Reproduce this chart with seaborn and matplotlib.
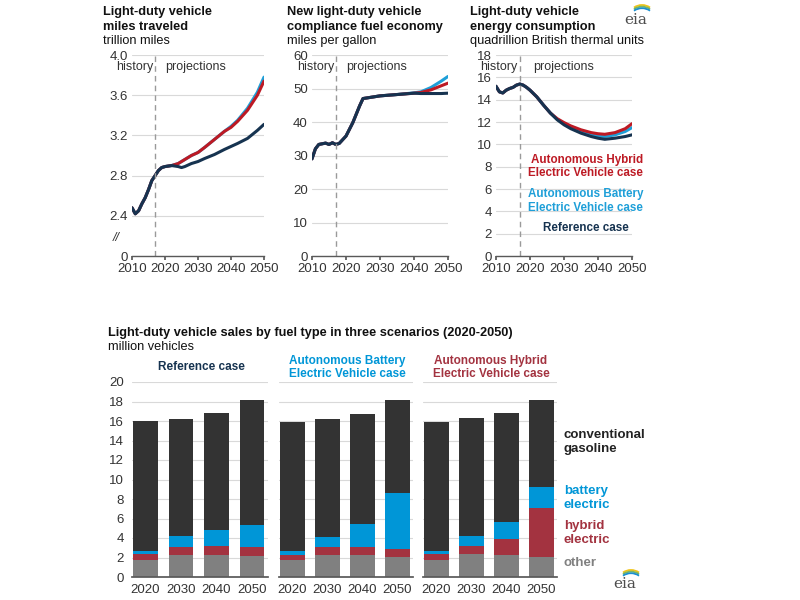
import numpy as np
import pandas as pd
import matplotlib
matplotlib.use("Agg")
import matplotlib.pyplot as plt
from matplotlib.patches import Arc
import seaborn as sns

# ---- line charts (top row) ----
vmt_years = [2010, 2011, 2012, 2013, 2014, 2015, 2016, 2017, 2018, 2019, 2020, 2022,
             2024, 2025, 2026, 2028, 2030, 2032, 2035, 2038, 2040, 2042, 2045, 2048, 2050]
vmt_ref = [2.48, 2.42, 2.45, 2.52, 2.58, 2.66, 2.75, 2.80, 2.85, 2.88, 2.89, 2.90,
           2.89, 2.88, 2.89, 2.92, 2.94, 2.97, 3.01, 3.06, 3.09, 3.12, 3.17, 3.25, 3.31]
vmt_bev = [2.48, 2.42, 2.45, 2.52, 2.58, 2.66, 2.75, 2.80, 2.85, 2.88, 2.89, 2.90,
           2.92, 2.94, 2.96, 3.00, 3.03, 3.08, 3.16, 3.24, 3.29, 3.35, 3.47, 3.63, 3.78]
vmt_hev = [2.48, 2.42, 2.45, 2.52, 2.58, 2.66, 2.75, 2.80, 2.85, 2.88, 2.89, 2.90,
           2.92, 2.94, 2.96, 3.00, 3.03, 3.08, 3.16, 3.24, 3.28, 3.34, 3.45, 3.60, 3.74]

mpg_years = [2010, 2011, 2012, 2013, 2014, 2015, 2016, 2017, 2018, 2019, 2020, 2021,
             2022, 2023, 2024, 2025, 2030, 2035, 2040, 2042, 2045, 2048, 2050]
mpg_ref = [29.0, 32.0, 33.3, 33.5, 33.7, 33.3, 33.8, 33.3, 33.6, 34.7, 35.8, 37.8,
           39.8, 42.3, 44.8, 47.0, 47.8, 48.2, 48.6, 48.5, 48.5, 48.5, 48.6]
mpg_bev = [29.0, 32.0, 33.3, 33.5, 33.7, 33.3, 33.8, 33.3, 33.6, 34.7, 35.8, 37.8,
           39.8, 42.3, 44.8, 47.0, 47.8, 48.2, 48.7, 49.0, 50.3, 52.2, 53.6]
mpg_hev = [29.0, 32.0, 33.3, 33.5, 33.7, 33.3, 33.8, 33.3, 33.6, 34.7, 35.8, 37.8,
           39.8, 42.3, 44.8, 47.0, 47.8, 48.2, 48.6, 48.8, 49.6, 50.8, 51.6]

nrg_years = [2010, 2011, 2012, 2013, 2014, 2015, 2016, 2017, 2018, 2019, 2020, 2022,
             2024, 2026, 2028, 2030, 2032, 2035, 2038, 2040, 2042, 2045, 2048, 2050]
nrg_ref = [15.2, 14.7, 14.6, 14.85, 15.0, 15.1, 15.3, 15.4, 15.3, 15.1, 14.85, 14.25,
           13.5, 12.8, 12.2, 11.75, 11.4, 11.0, 10.7, 10.55, 10.45, 10.55, 10.7, 10.85]
nrg_bev = [15.2, 14.7, 14.6, 14.85, 15.0, 15.1, 15.3, 15.4, 15.3, 15.1, 14.85, 14.25,
           13.5, 12.8, 12.25, 11.85, 11.5, 11.1, 10.85, 10.75, 10.7, 10.85, 11.15, 11.5]
nrg_hev = [15.2, 14.7, 14.6, 14.85, 15.0, 15.1, 15.3, 15.4, 15.3, 15.1, 14.85, 14.25,
           13.5, 12.8, 12.3, 11.95, 11.65, 11.3, 11.05, 10.95, 10.9, 11.05, 11.4, 11.85]

# ---- stacked bars (bottom row) ----
bar_years = ["2020", "2030", "2040", "2050"]
ref_other = [1.78, 2.30, 2.30, 2.16]
ref_hybrid = [0.62, 0.75, 0.86, 0.89]
ref_battery = [0.31, 1.20, 1.68, 2.27]
ref_conv = [13.24, 11.95, 11.96, 12.88]

bev_other = [1.78, 2.30, 2.30, 2.06]
bev_hybrid = [0.45, 0.75, 0.75, 0.82]
bev_battery = [0.45, 1.10, 2.40, 5.72]
bev_conv = [13.17, 12.05, 11.25, 9.55]

hev_other = [1.78, 2.33, 2.23, 2.06]
hev_hybrid = [0.55, 0.83, 1.65, 5.04]
hev_battery = [0.35, 1.09, 1.78, 2.16]
hev_conv = [13.17, 12.05, 11.14, 8.94]

NAVY = "#163350"
RED = "#bd1a24"
BLUE = "#1e9fd8"
C_CONV = "#333333"
C_BAT = "#0096d7"
C_HYB = "#a33340"
C_OTH = "#808080"
GRID = "#d9d9d9"
AXC = "#595959"

sns.set_theme(style="white")
plt.rcParams["font.family"] = ["Liberation Sans", "DejaVu Sans"]

W, H = 800, 600
fig = plt.figure(figsize=(8, 6), dpi=100)


def box(l, t, r, b):
    return [l / W, 1 - b / H, (r - l) / W, (b - t) / H]


def ftext(x, y, s, **kw):
    fig.text(x / W, 1 - y / H, s, **kw)


def logo(l, t, r, b):
    # small eia mark: word plus three arcs above it
    ax = fig.add_axes(box(l, t, r, b))
    ax.set_xlim(0, r - l)
    ax.set_ylim(0, b - t)
    ax.axis("off")
    ax.text(0, 0.5, "eia", fontsize=11, family="DejaVu Serif", color="#4d4d4d",
            ha="left", va="bottom")
    for dy, col in [(0, "#f0c419"), (-1.6, "#7bb661"), (-3.2, "#1a8fd0")]:
        ax.add_patch(Arc((18, 8 + dy), 28, 28, theta1=55, theta2=125,
                         color=col, lw=1.3))


def style_top(ax, ylim, yticks, ylabels, hist_x=2016.5, proj_x=2020):
    ax.set_xlim(2010, 2050)
    ax.set_ylim(*ylim)
    ax.set_xticks([2010, 2020, 2030, 2040, 2050])
    ax.set_yticks(yticks)
    ax.set_yticklabels(ylabels)
    ax.grid(axis="y", color=GRID, lw=0.8)
    ax.grid(axis="x", visible=False)
    for s in ["top", "right", "left"]:
        ax.spines[s].set_visible(False)
    ax.spines["bottom"].set_color(AXC)
    ax.spines["bottom"].set_linewidth(1)
    ax.tick_params(axis="y", length=0, labelsize=9.5, labelcolor="#333333", pad=3)
    ax.tick_params(axis="x", length=3, color=AXC, labelsize=9.5, labelcolor="#333333",
                   bottom=True, direction="out", pad=2)
    ax.axvline(2017, color="#9a9a9a", ls=(0, (4, 3)), lw=1)
    ax.text(hist_x, 0.94, "history", transform=ax.get_xaxis_transform(),
            ha="right", va="center", fontsize=9, color="#333333")
    ax.text(proj_x, 0.94, "projections", transform=ax.get_xaxis_transform(),
            ha="left", va="center", fontsize=9, color="#333333")
    ax.set_xlabel("")
    ax.set_ylabel("")


def draw_lines(ax, years, bev, hev, ref):
    sns.lineplot(x=years, y=bev, color=BLUE, lw=2.2, ax=ax)
    sns.lineplot(x=years, y=hev, color=RED, lw=2.2, ax=ax)
    sns.lineplot(x=years, y=ref, color=NAVY, lw=2.2, ax=ax)


# panel 1: miles traveled (broken axis, 0 drawn at 2.0)
ax1 = fig.add_axes(box(132, 55, 264, 256))
draw_lines(ax1, vmt_years, vmt_bev, vmt_hev, vmt_ref)
style_top(ax1, (2.0, 4.0), [2.0, 2.4, 2.8, 3.2, 3.6, 4.0],
          ["0", "2.4", "2.8", "3.2", "3.6", "4.0"])
ax1.text(-0.12, 2.18, "//", transform=ax1.get_yaxis_transform(), ha="center",
         va="center", fontsize=9, color="#333333", style="italic")

# panel 2: fuel economy
ax2 = fig.add_axes(box(312, 55, 448, 256))
draw_lines(ax2, mpg_years, mpg_bev, mpg_hev, mpg_ref)
style_top(ax2, (0, 60), list(range(0, 61, 10)), [str(v) for v in range(0, 61, 10)])

# panel 3: energy consumption
ax3 = fig.add_axes(box(496, 55, 632, 256))
draw_lines(ax3, nrg_years, nrg_bev, nrg_hev, nrg_ref)
style_top(ax3, (0, 18), list(range(0, 19, 2)), [str(v) for v in range(0, 19, 2)],
          hist_x=2016.3, proj_x=2020.8)

# top titles
tkw = dict(fontsize=9.2, fontweight="bold", color="#111111", va="center", ha="left")
ukw = dict(fontsize=9.2, color="#111111", va="center", ha="left")
ftext(103, 19.5, "Light-duty vehicle\nmiles traveled", linespacing=1.25, **tkw)
ftext(103, 41, "trillion miles", **ukw)
ftext(287, 19.5, "New light-duty vehicle\ncompliance fuel economy", linespacing=1.25, **tkw)
ftext(287, 41, "miles per gallon", **ukw)
ftext(470, 19.5, "Light-duty vehicle\nenergy consumption", linespacing=1.25, **tkw)
ftext(470, 41, "quadrillion British thermal units", **ukw)

# line labels in panel 3
lkw = dict(fontsize=8.4, fontweight="bold", ha="right", va="center", linespacing=1.2)
ftext(643, 166.5, "Autonomous Hybrid\nElectric Vehicle case", color=RED, **lkw)
ftext(643, 201, "Autonomous Battery\nElectric Vehicle case", color=BLUE, **lkw)
ftext(629, 228, "Reference case", color=NAVY, **lkw)

logo(624, 4, 652, 27)
logo(613, 569, 641, 592)

# ---- bottom row ----
ftext(108, 333, "Light-duty vehicle sales by fuel type in three scenarios (2020-2050)",
      **tkw)
ftext(108, 347, "million vehicles", **ukw)

scenarios = [
    ((132, 268), "Reference case", NAVY,
     ref_other, ref_hybrid, ref_battery, ref_conv),
    ((279, 413), "Autonomous Battery\nElectric Vehicle case", C_BAT,
     bev_other, bev_hybrid, bev_battery, bev_conv),
    ((423, 557), "Autonomous Hybrid\nElectric Vehicle case", C_HYB,
     hev_other, hev_hybrid, hev_battery, hev_conv),
]

for i, ((l, r), label, lcol, oth, hyb, bat, conv) in enumerate(scenarios):
    ax = fig.add_axes(box(l, 382, r, 577))
    oth = np.array(oth)
    hyb = np.array(hyb)
    bat = np.array(bat)
    conv = np.array(conv)
    layers = [(oth + hyb + bat + conv, C_CONV), (oth + hyb + bat, C_BAT),
              (oth + hyb, C_HYB), (oth, C_OTH)]
    for vals, col in layers:
        df = pd.DataFrame({"year": bar_years, "value": vals})
        sns.barplot(data=df, x="year", y="value", color=col, saturation=1,
                    width=0.7, ax=ax, edgecolor="none", zorder=3)
    ax.set_xlim(-0.38, 3.45)
    ax.set_ylim(0, 20)
    ax.set_yticks(range(0, 21, 2))
    ax.grid(axis="y", color=GRID, lw=0.8, zorder=0)
    ax.grid(axis="x", visible=False)
    for s in ["top", "right", "left"]:
        ax.spines[s].set_visible(False)
    ax.spines["bottom"].set_color(AXC)
    ax.spines["bottom"].set_zorder(4)
    ax.tick_params(axis="x", length=0, labelsize=9.5, labelcolor="#333333", pad=5)
    ax.tick_params(axis="y", length=0, labelsize=9.5, labelcolor="#333333", pad=6,
                   labelleft=(i == 0))
    ax.set_xlabel("")
    ax.set_ylabel("")
    ax.set_axisbelow(True)
    ftext((l + r) / 2 + 1, 367.5, label, fontsize=8.5, fontweight="bold", color=lcol,
          ha="center", va="center", linespacing=1.2)

# bar legend labels
bkw = dict(fontsize=9.5, fontweight="bold", ha="left", va="center", linespacing=1.2)
ftext(564, 442, "conventional\ngasoline", color="#222222", **bkw)
ftext(564, 498, "battery\nelectric", color=C_BAT, **bkw)
ftext(564, 533, "hybrid\nelectric", color=C_HYB, **bkw)
ftext(564, 563, "other", color=C_OTH, **bkw)

fig.savefig("out.png", dpi=100, facecolor="white")
